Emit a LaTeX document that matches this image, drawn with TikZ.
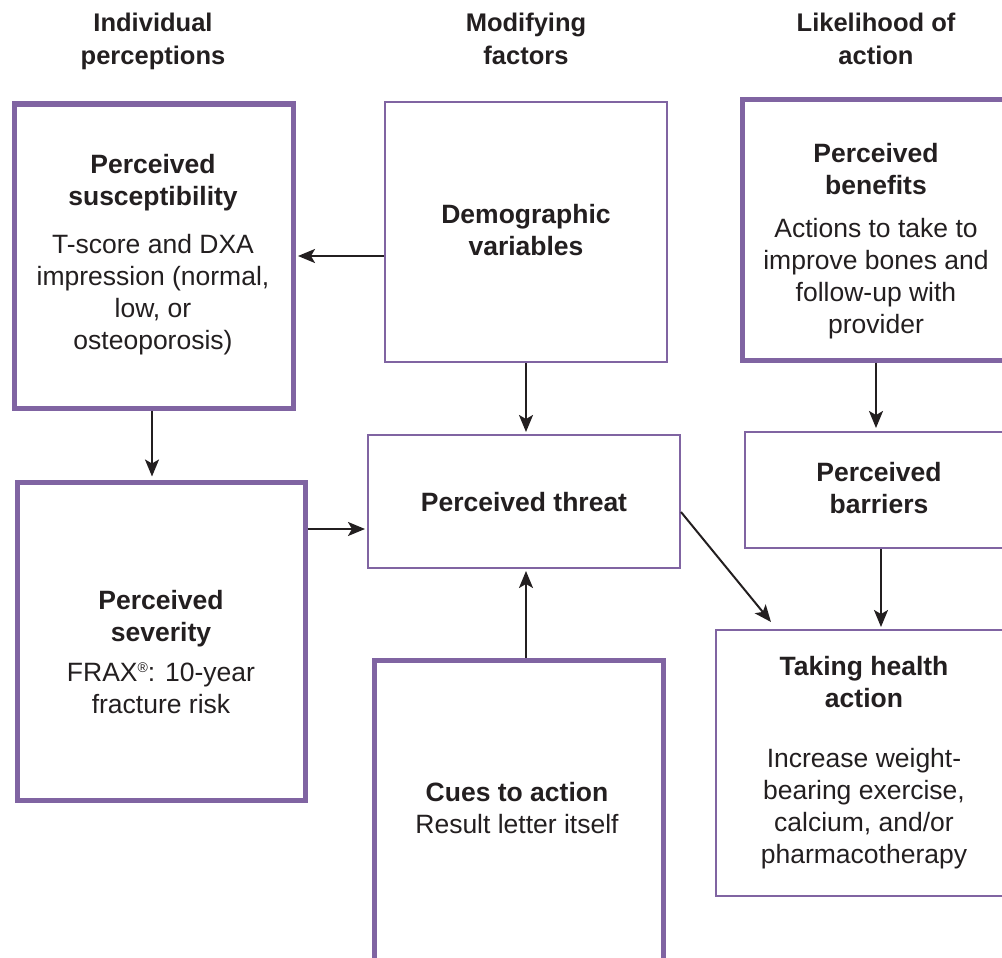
\documentclass[tikz,border=0pt]{standalone}
\usepackage{fontspec}
\setmainfont{Liberation Sans}
\usetikzlibrary{arrows.meta}
\definecolor{purp}{RGB}{128,100,162}
\definecolor{ink}{RGB}{35,31,32}
\begin{document}
\begin{tikzpicture}[x=1pt,y=-1pt,
  thickbox/.style={draw=purp,line width=5pt,inner sep=0pt,fill=white},
  thinbox/.style={draw=purp,line width=2pt,inner sep=0pt,fill=white},
  txt/.style={text=ink,align=center,font=\fontsize{26.5}{32}\selectfont,inner sep=0pt},
  hdr/.style={text=ink,align=center,font=\fontsize{25.5}{33}\selectfont\bfseries,inner sep=0pt},
  arr/.style={draw=ink,line width=2pt,-{Stealth[length=17pt,width=14pt,inset=4pt]}}]
\useasboundingbox (0,0) rectangle (1002,958);
\clip (0,0) rectangle (1002,958);
% headers
\node[hdr] (h1) at (153,41.5) {Individual\\perceptions};
\node[hdr] (h2) at (526,38.5) {Modifying\\factors};
\node[hdr] (h3) at (876,38.5) {Likelihood of\\action};
% boxes
\node[thickbox,minimum width=279pt,minimum height=304pt] (sus) at (153.5,256) {};
\node[thinbox,minimum width=282pt,minimum height=260pt] (demo) at (526,232) {};
\node[thickbox,minimum width=268pt,minimum height=260pt] (ben) at (876,230) {};
\node[thinbox,minimum width=312pt,minimum height=133pt] (threat) at (524,501.5) {};
\node[thinbox,minimum width=265pt,minimum height=116pt] (bar) at (877.5,490) {};
\node[thickbox,minimum width=288pt,minimum height=318pt] (sev) at (161,641) {};
\node[thickbox,minimum width=289pt,minimum height=305pt] (cues) at (518.5,812.5) {};
\node[thinbox,minimum width=294pt,minimum height=266pt] (take) at (863,763) {};
% texts
\node[txt] (sust) at (153,255) {\textbf{Perceived}\\\textbf{susceptibility}\\[16pt]T-score and DXA\\impression (normal,\\low, or\\osteoporosis)};
\node[txt] (demot) at (526,230.5) {\textbf{Demographic}\\\textbf{variables}};
\node[txt] (bent) at (876,241) {\textbf{Perceived}\\\textbf{benefits}\\[11pt]Actions to take to\\improve bones and\\follow-up with\\provider};
\node[txt] (threatt) at (524,502) {\textbf{Perceived threat}};
\node[txt] (bart) at (879,488) {\textbf{Perceived}\\\textbf{barriers}};
\node[txt] (sevt) at (161,652) {\textbf{Perceived}\\\textbf{severity}\\[8pt]FRAX\raisebox{9pt}{\fontsize{14}{14}\selectfont ®}: 10-year\\fracture risk};
\node[txt] (cuest) at (517,808) {\textbf{Cues to action}\\Result letter itself};
\node[txt] (taket) at (864,763) {\textbf{Taking health}\\\textbf{action}\\[28pt]Increase weight-\\bearing exercise,\\calcium, and/or\\pharmacotherapy};
% connectors
\coordinate (tk) at (771,622);
\draw[arr,shorten >=2.5pt] (demo.west |- 0,256) -- (sus.east |- 0,256);
\draw[arr,shorten >=3pt] (sus.south -| 152,0) -- (sev.north -| 152,0);
\draw[arr,shorten >=2pt] (demo.south) -- (threat.north -| demo.south);
\draw[arr,shorten >=2pt] (sev.east |- 0,529) -- (threat.west |- 0,529);
\draw[arr,shorten >=2pt] (cues.north -| demo.south) -- (threat.south -| demo.south);
\draw[arr,shorten >=3pt] (ben.south) -- (bar.north -| ben.south);
\draw[arr,shorten >=2pt] (bar.south -| 881,0) -- (take.north -| 881,0);
\draw[arr] (threat.east |- 0,512) -- (tk);
\end{tikzpicture}
\end{document}
